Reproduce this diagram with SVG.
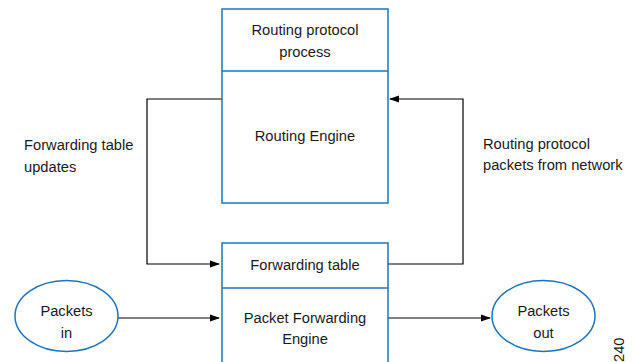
<svg xmlns="http://www.w3.org/2000/svg" width="634" height="362" viewBox="0 0 634 362">
<style>
.box{fill:#fff;stroke:#1c75bc;stroke-width:1.5}
.div{stroke:#1c75bc;stroke-width:1.5}
.t{font-family:"Liberation Sans",Arial,sans-serif;font-size:14.7px;fill:#1a1a1a}
.c{text-anchor:middle}
.ln{fill:none;stroke:#000;stroke-width:1.2}
</style>
<defs>
<marker id="ah" markerWidth="10" markerHeight="8" refX="9" refY="4" orient="auto" markerUnits="userSpaceOnUse">
<path d="M0,0.5 L10,4 L0,7.5 Z" fill="#000"/>
</marker>
</defs>
<rect width="634" height="362" fill="#fff"/>
<g id="connectors">
<path class="ln" d="M222,99 H147 V264 H219" marker-end="url(#ah)"/>
<path class="ln" d="M388,264 H463 V99 H390" marker-end="url(#ah)"/>
<path class="ln" d="M118,318 H219" marker-end="url(#ah)"/>
<path class="ln" d="M388,318 H490" marker-end="url(#ah)"/>
</g>
<g id="routing-engine">
<rect class="box" x="222" y="9" width="166" height="194"/>
<line class="div" x1="222" y1="71" x2="388" y2="71"/>
<text class="t c" x="305" y="35">Routing protocol</text>
<text class="t c" x="305" y="57">process</text>
<text class="t c" x="305" y="141">Routing Engine</text>
</g>
<g id="pfe">
<rect class="box" x="222" y="243" width="166" height="125"/>
<line class="div" x1="222" y1="288" x2="388" y2="288"/>
<text class="t c" x="305" y="270">Forwarding table</text>
<text class="t c" x="305" y="323">Packet Forwarding</text>
<text class="t c" x="305" y="344">Engine</text>
</g>
<g id="packets-in">
<ellipse class="box" cx="66.5" cy="316" rx="51.5" ry="35.5"/>
<text class="t c" x="66.5" y="316">Packets</text>
<text class="t c" x="66.5" y="338">in</text>
</g>
<g id="packets-out">
<ellipse class="box" cx="543.5" cy="316" rx="51.5" ry="35.5"/>
<text class="t c" x="543.5" y="316">Packets</text>
<text class="t c" x="543.5" y="338">out</text>
</g>
<g id="labels">
<text class="t" x="24" y="150">Forwarding table</text>
<text class="t" x="24" y="172">updates</text>
<text class="t" x="483" y="149">Routing protocol</text>
<text class="t" x="483" y="170">packets from network</text>
<text class="t" font-size="12" transform="translate(624,362) rotate(-90)">240</text>
</g>
</svg>
